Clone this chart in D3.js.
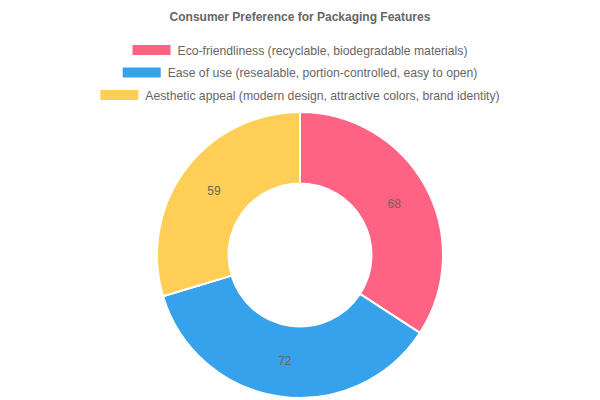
<!DOCTYPE html>
<html><head><meta charset="utf-8">
<script src="https://cdn.jsdelivr.net/npm/d3@7"></script>
<style>body{margin:0;background:#fff}svg{display:block;font-family:"Liberation Sans",Arial,Helvetica,sans-serif}</style>
</head><body>
<svg id="c" width="600" height="400"></svg>
<script>
const title = "Consumer Preference for Packaging Features";
const categories = [
  "Eco-friendliness (recyclable, biodegradable materials)",
  "Ease of use (resealable, portion-controlled, easy to open)",
  "Aesthetic appeal (modern design, attractive colors, brand identity)"
];
const values = [68, 72, 59];
const colors = ["rgb(255,99,132)", "rgb(54,162,235)", "rgb(255,206,86)"];

const svg = d3.select("#c");
svg.append("text").attr("x", 300).attr("y", 21).attr("text-anchor", "middle")
  .attr("font-size", 12).attr("font-weight", "bold").attr("fill", "#666").text(title);

// legend
const legendY = [45, 67.5, 90];
categories.forEach((c, i) => {
  const g = svg.append("g");
  const t = g.append("text").attr("font-size", 12.2).attr("fill", "#666").text(c);
  const tw = t.node().getComputedTextLength();
  const total = 38 + 7 + tw;
  const x0 = 300 - total / 2;
  g.insert("rect", "text").attr("x", x0).attr("y", legendY[i]).attr("width", 38).attr("height", 10)
    .attr("fill", colors[i]);
  t.attr("x", x0 + 45).attr("y", legendY[i] + 9.5);
});

const cx = 300, cy = 255, R = 143, r = 71.5;
const pie = d3.pie().sort(null).value(d => d)(values);
const arc = d3.arc().outerRadius(R).innerRadius(r);
const g = svg.append("g").attr("transform", `translate(${cx},${cy})`);
g.selectAll("path").data(pie).join("path").attr("d", arc)
  .attr("fill", (d, i) => colors[i]).attr("stroke", "#fff").attr("stroke-width", 2);
g.selectAll("text").data(pie).join("text")
  .attr("transform", d => `translate(${arc.centroid(d)})`)
  .attr("text-anchor", "middle").attr("dy", "0.35em")
  .attr("font-size", 12).attr("fill", "#666").text(d => d.data);
</script>
</body></html>
